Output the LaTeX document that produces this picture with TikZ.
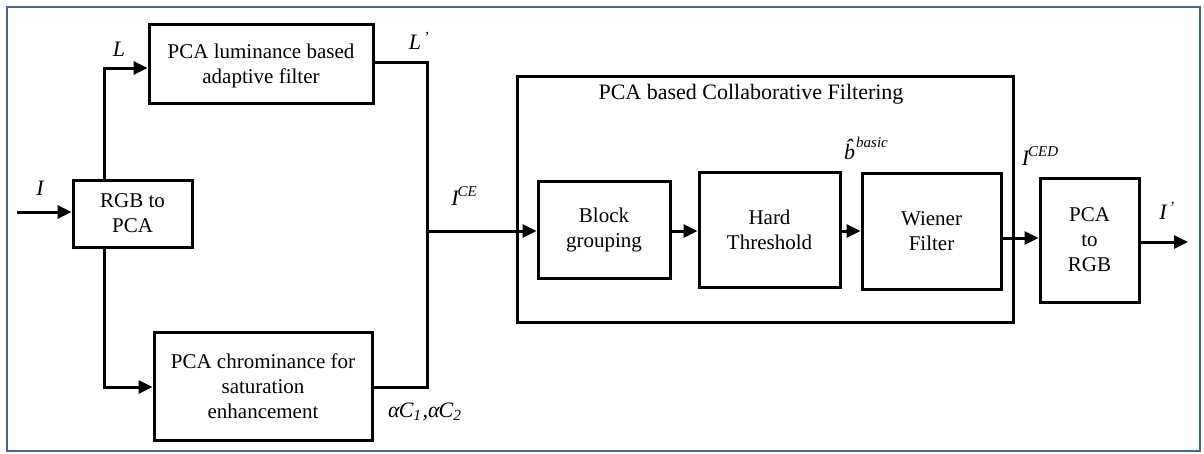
\documentclass[tikz,border=0pt]{standalone}
\usepackage{fontspec}
\setmainfont{Liberation Serif}
\usetikzlibrary{arrows.meta}
\definecolor{framecol}{RGB}{66,104,148}
\begin{document}
\begin{tikzpicture}[x=1pt,y=-1pt,
  box/.style={draw, line width=3pt, align=center, inner sep=0pt,
    font=\fontsize{21}{25}\selectfont},
  conn/.style={line width=3pt},
  arr/.style={conn, -{Triangle[length=14pt,width=13pt]}},
  lbl/.style={font=\fontsize{22}{24}\selectfont\itshape, inner sep=0pt}]
\useasboundingbox (0,0) rectangle (1204,453);
\draw[framecol, line width=2pt] (7,7) rectangle (1200,451);

% boxes
\node[box, minimum width=119pt, minimum height=67pt] (rgb) at (132.5,213.5) {RGB to\\PCA};
\node[box, minimum width=224pt, minimum height=79pt] (lum) at (261,63.5) {};
\node[font=\fontsize{21}{25}\selectfont, align=center, inner sep=0pt] (lumtxt) at (lum.center) [yshift=-2pt] {PCA luminance based\\adaptive filter};
\node[box, minimum width=218pt, minimum height=108pt] (chrom) at (263,386) {PCA chrominance for\\saturation\\enhancement};
\node[box, minimum width=496pt, minimum height=246pt] (cf) at (765,199.5) {};
\node[font=\fontsize{22}{25}\selectfont, inner sep=0pt] (title) at (751,94) {PCA based Collaborative Filtering};
\node[box, minimum width=132pt, minimum height=97pt] (blk) at (604,229.5) {Block\\grouping};
\node[box, minimum width=141pt, minimum height=115pt] (hard) at (769.5,229.5) {Hard\\Threshold};
\node[box, minimum width=139pt, minimum height=116pt] (wien) at (931.5,231) {Wiener\\Filter};
\node[box, minimum width=99pt, minimum height=124pt] (p2r) at (1089.5,240) {PCA\\to\\RGB};

% coordinates
\coordinate (in) at (17,212);
\coordinate (up) at (104,68);
\coordinate (dn) at (104,387);
\coordinate (jt) at (427,62);
\coordinate (jb) at (427,387);
\coordinate (jm) at (427,231);
\coordinate (mid) at (1020,238);
\coordinate (out) at (1188,242);

% connectors
\draw[arr] (in) -- (rgb.west |- in);
\draw[arr] (rgb.north -| up) -- (up) -- (lum.west |- up);
\draw[arr] (rgb.south -| dn) -- (dn) -- (chrom.west |- dn);
\draw[conn] (lum.east |- jt) -- (jt) -- (jb) -- (chrom.east |- jb);
\draw[arr] (jm) -- (blk.west |- jm);
\draw[arr] (blk.east |- jm) -- (hard.west |- jm);
\draw[arr] (hard.east |- jm) -- (wien.west |- jm);
\draw[arr] (wien.east |- mid) -- (p2r.west |- mid);
\draw[arr] (p2r.east |- out) -- (out);

% labels
\node[lbl] (lI) at (40,188) {I};
\node[lbl] (lL) at (119,49) {L};
\node[lbl] (lLp) at (419,41) {L\textsuperscript{\,'}};
\node[lbl, anchor=west] (lC) at (388,412) {α\kern-1pt C\textsubscript{1}\kern1pt,α\kern-1pt C\textsubscript{2}};
\node[lbl] (lICE) at (464,196) {I\kern-1pt\raisebox{0.45em}{\fontsize{15}{15}\selectfont CE}};
\node[lbl] (lb) at (866,148) {\^{b}\kern1pt\raisebox{0.55em}{\fontsize{15}{15}\selectfont basic}};
\node[lbl] (lICED) at (1040,156) {I\kern-1pt\raisebox{0.45em}{\fontsize{15}{15}\selectfont CED}};
\node[lbl] (lIp) at (1167,211) {I\textsuperscript{\,'}};
\end{tikzpicture}
\end{document}
